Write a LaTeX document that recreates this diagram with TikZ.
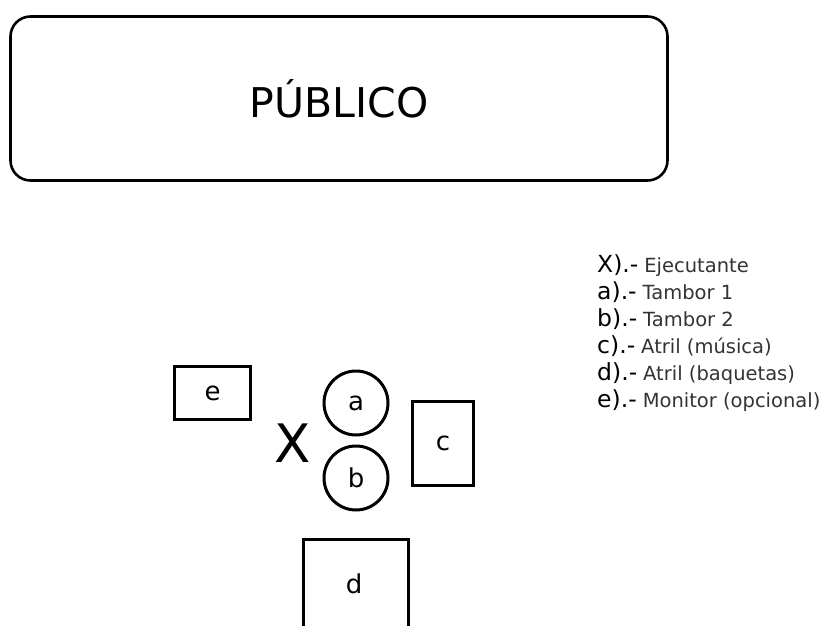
\documentclass[tikz,border=0pt]{standalone}
\usepackage{fontspec}
\setmainfont{DejaVu Sans}
\begin{document}
\begin{tikzpicture}[x=1pt,y=-1pt,
  outline/.style={draw=black,line width=3pt},
  boxnode/.style={outline,rectangle,inner sep=0pt,font=\fontsize{26}{26}\selectfont},
  drum/.style={outline,circle,inner sep=0pt,minimum size=64pt,font=\fontsize{26}{26}\selectfont},
  legend/.style={anchor=base west,inner sep=0pt},
]
\useasboundingbox (0,0) rectangle (828,626);
\clip (0,0) rectangle (828,626);
% Audience
\node[draw=black,line width=2.6pt,rectangle,rounded corners=20pt,minimum width=657pt,minimum height=164pt,inner sep=0pt,
      font=\fontsize{41}{41}\selectfont] (publico) at (339,98.5) {PÚBLICO};
% Stage elements
\node[boxnode,minimum width=76pt,minimum height=53pt] (e) at (212.5,393) {e};
\node[drum] (a) at (356,403) {a};
\node[drum] (b) at (356,478) {b};
\node[inner sep=0pt,font=\fontsize{53}{53}\selectfont] (X) at (293,443) {X};
\node[boxnode,minimum width=61pt,minimum height=84pt] (c) at (443,443.5) {c};
\node[boxnode,minimum width=105pt,minimum height=110pt] (d) at (356,594) {};
\node[inner sep=0pt,font=\fontsize{26}{26}\selectfont] (dl) at (354,584) {d};
% Legend
\newcommand{\legrow}[2]{{\fontsize{23.5}{23.5}\selectfont #1).-}\hspace{6pt}{\fontsize{19.5}{19.5}\selectfont\color{black!80}#2}}
\node[legend] (l1) at (597,272) {\legrow{X}{Ejecutante}};
\node[legend] (l2) at (597,299) {\legrow{a}{Tambor 1}};
\node[legend] (l3) at (597,326) {\legrow{b}{Tambor 2}};
\node[legend] (l4) at (597,353) {\legrow{c}{Atril (música)}};
\node[legend] (l5) at (597,380) {\legrow{d}{Atril (baquetas)}};
\node[legend] (l6) at (597,407) {\legrow{e}{Monitor (opcional)}};
\end{tikzpicture}
\end{document}
